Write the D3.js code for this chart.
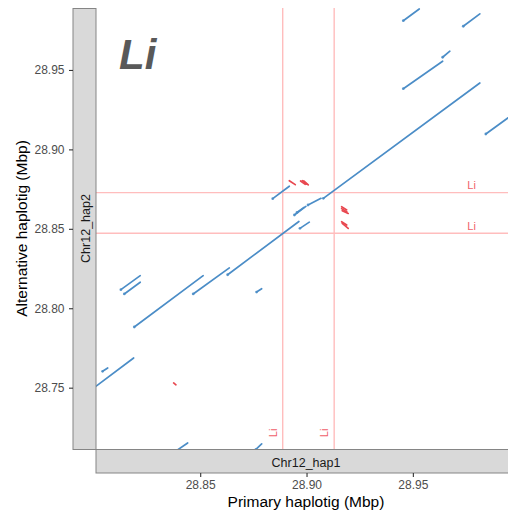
<!DOCTYPE html>
<html>
<head>
<meta charset="utf-8">
<script src="https://cdn.jsdelivr.net/npm/d3@7"></script>
<style>
  html, body { margin: 0; padding: 0; background: #fff; }
  svg { display: block; font-family: "Liberation Sans", Arial, Helvetica, sans-serif; }
</style>
</head>
<body>
<svg id="chart" width="508" height="521"></svg>
<script>
// Axis ranges (Mbp)
const primaryRange = [28.801, 28.9985];
const altRange = [28.7114, 28.989];
const xTicks = [28.85, 28.90, 28.95];
const yTicks = [28.75, 28.80, 28.85, 28.90, 28.95];

// Forward alignments: [primaryStart, primaryEnd, altStart, altEnd]
const forwardHits = [
  [28.7995, 28.8187, 28.7494, 28.7687],
  [28.8041, 28.8065, 28.7603, 28.7624],
  [28.8190, 28.8514, 28.7882, 28.8205],
  [28.8127, 28.8218, 28.8117, 28.8205],
  [28.8143, 28.8218, 28.8090, 28.8164],
  [28.8467, 28.8637, 28.8090, 28.8254],
  [28.8629, 28.8964, 28.8211, 28.8546],
  [28.8765, 28.8789, 28.8102, 28.8123],
  [28.8390, 28.8441, 28.7105, 28.7152],
  [28.8762, 28.8789, 28.7112, 28.7146],
  [28.8841, 28.8919, 28.8690, 28.8768],
  [28.8943, 28.8997, 28.8587, 28.8641],
  [28.8955, 28.8988, 28.8603, 28.8635],
  [28.9007, 28.9068, 28.8650, 28.8692],
  [28.8969, 28.9013, 28.8503, 28.8542],
  [28.9079, 28.9815, 28.8692, 28.9418],
  [28.9455, 28.9530, 28.9810, 28.9884],
  [28.9737, 28.9815, 28.9775, 28.9853],
  [28.9640, 28.9674, 28.9580, 28.9618],
  [28.9455, 28.9640, 28.9382, 28.9555],
  [28.9843, 28.9990, 28.9097, 28.9240]
];

// Reverse alignments: [primaryStart, primaryEnd, altStart, altEnd]
const reverseHits = [
  [28.8375, 28.8386, 28.7530, 28.7518],
  [28.8919, 28.8947, 28.8803, 28.8778],
  [28.8972, 28.8994, 28.8801, 28.8780],
  [28.8980, 28.9001, 28.8803, 28.8781],
  [28.8987, 28.9008, 28.8801, 28.8776],
  [28.9165, 28.9189, 28.8639, 28.8619],
  [28.9165, 28.9190, 28.8627, 28.8606],
  [28.9168, 28.9196, 28.8614, 28.8597],
  [28.9165, 28.9189, 28.8545, 28.8524],
  [28.9168, 28.9196, 28.8534, 28.8503]
];

// Gene "Li" location on each haplotig
const geneName = "Li";
const genePrimary = [28.8888, 28.9130];
const geneAlt = [28.8472, 28.8728];
const geneLabelPrimaryPos = 28.9776;   // where the labels on horizontal lines sit
const geneLabelAltPos = 28.7215;       // where the labels on vertical lines sit

const stripPrimary = "Chr12_hap1";
const stripAlt = "Chr12_hap2";
const xTitle = "Primary haplotig (Mbp)";
const yTitle = "Alternative haplotig (Mbp)";

// Layout
const panel = { left: 96, right: 516, top: 8, bottom: 449 };
const stripW = 23.5;

const svg = d3.select("#chart");

const x = d3.scaleLinear().domain(primaryRange).range([panel.left, panel.right]);
const y = d3.scaleLinear().domain(altRange).range([panel.bottom, panel.top]);

svg.append("defs").append("clipPath").attr("id", "panel-clip")
  .append("rect")
  .attr("x", panel.left).attr("y", panel.top)
  .attr("width", panel.right - panel.left).attr("height", panel.bottom - panel.top);

const plot = svg.append("g").attr("clip-path", "url(#panel-clip)");

// Gene position guide lines
const guideColor = "#ffbdbd";
plot.selectAll("line.gx").data(genePrimary).join("line")
  .attr("class", "gx")
  .attr("x1", d => x(d)).attr("x2", d => x(d))
  .attr("y1", panel.top).attr("y2", panel.bottom)
  .attr("stroke", guideColor).attr("stroke-width", 1.4);
plot.selectAll("line.gy").data(geneAlt).join("line")
  .attr("class", "gy")
  .attr("x1", panel.left).attr("x2", panel.right)
  .attr("y1", d => y(d)).attr("y2", d => y(d))
  .attr("stroke", guideColor).attr("stroke-width", 1.4);

// Alignment segments
const fwdColor = "#4b8dc7";
const revColor = "#e8474f";

plot.selectAll("line.fwd").data(forwardHits).join("line")
  .attr("class", "fwd")
  .attr("x1", d => x(d[0])).attr("x2", d => x(d[1]))
  .attr("y1", d => y(d[2])).attr("y2", d => y(d[3]))
  .attr("stroke", fwdColor).attr("stroke-width", 1.7)
  .attr("stroke-linecap", "round");
plot.selectAll("circle.fwd").data(forwardHits).join("circle")
  .attr("class", "fwd")
  .attr("cx", d => x(d[0])).attr("cy", d => y(d[2]))
  .attr("r", 1.4).attr("fill", fwdColor).attr("opacity", 0.8);

plot.selectAll("line.rev").data(reverseHits).join("line")
  .attr("class", "rev")
  .attr("x1", d => x(d[0])).attr("x2", d => x(d[1]))
  .attr("y1", d => y(d[2])).attr("y2", d => y(d[3]))
  .attr("stroke", revColor).attr("stroke-width", 1.7)
  .attr("stroke-linecap", "round");

// Gene labels
const labelColor = "#f0606a";
plot.selectAll("text.gy").data(geneAlt).join("text")
  .attr("class", "gy")
  .attr("x", x(geneLabelPrimaryPos)).attr("y", d => y(d) - 3.4)
  .attr("text-anchor", "middle").attr("font-size", 11).attr("fill", labelColor)
  .text(geneName);
plot.selectAll("text.gx").data(genePrimary).join("text")
  .attr("class", "gx")
  .attr("transform", d => `translate(${x(d) - 6},${y(geneLabelAltPos)}) rotate(-90)`)
  .attr("text-anchor", "middle").attr("font-size", 11).attr("fill", labelColor)
  .text(geneName);

// Panel title
svg.append("text")
  .attr("x", 119).attr("y", 69)
  .attr("font-size", 42).attr("font-weight", "bold").attr("font-style", "italic")
  .attr("fill", "#595959")
  .text(geneName);

// Strips
svg.append("rect")
  .attr("x", panel.left - stripW + 0.5).attr("y", panel.top + 0.5)
  .attr("width", stripW - 0.5).attr("height", panel.bottom - panel.top)
  .attr("fill", "#d9d9d9").attr("stroke", "#858585").attr("stroke-width", 1);
svg.append("rect")
  .attr("x", panel.left).attr("y", panel.bottom + 0.5)
  .attr("width", panel.right - panel.left).attr("height", stripW)
  .attr("fill", "#d9d9d9").attr("stroke", "#858585").attr("stroke-width", 1);

svg.append("text")
  .attr("transform", `translate(${panel.left - 6.5},${(panel.top + panel.bottom) / 2}) rotate(-90)`)
  .attr("text-anchor", "middle").attr("font-size", 12.5).attr("fill", "#1a1a1a")
  .text(stripAlt);
svg.append("text")
  .attr("x", (panel.left + panel.right) / 2).attr("y", panel.bottom + 17.5)
  .attr("text-anchor", "middle").attr("font-size", 12.5).attr("fill", "#1a1a1a")
  .text(stripPrimary);

// Axes
const fmt = d3.format(".2f");
const yAxis = svg.append("g")
  .attr("transform", `translate(${panel.left - stripW + 0.5},0)`)
  .call(d3.axisLeft(y).tickValues(yTicks).tickFormat(fmt).tickSize(4).tickPadding(4.5));
const xAxis = svg.append("g")
  .attr("transform", `translate(0,${panel.bottom + stripW + 0.5})`)
  .call(d3.axisBottom(x).tickValues(xTicks).tickFormat(fmt).tickSize(4).tickPadding(3.5));

[yAxis, xAxis].forEach(g => {
  g.select(".domain").remove();
  g.selectAll(".tick line").attr("stroke", "#333").attr("stroke-width", 1.1);
  g.selectAll(".tick text").attr("fill", "#4d4d4d").attr("font-size", 12)
    .attr("font-family", "'Liberation Sans', Arial, Helvetica, sans-serif");
});

// Axis titles
svg.append("text")
  .attr("x", (panel.left + panel.right) / 2).attr("y", 507)
  .attr("text-anchor", "middle").attr("font-size", 15.5).attr("fill", "#000")
  .text(xTitle);
svg.append("text")
  .attr("transform", `translate(26.5,${(panel.top + panel.bottom) / 2}) rotate(-90)`)
  .attr("text-anchor", "middle").attr("font-size", 15.5).attr("fill", "#000")
  .text(yTitle);
</script>
</body>
</html>
